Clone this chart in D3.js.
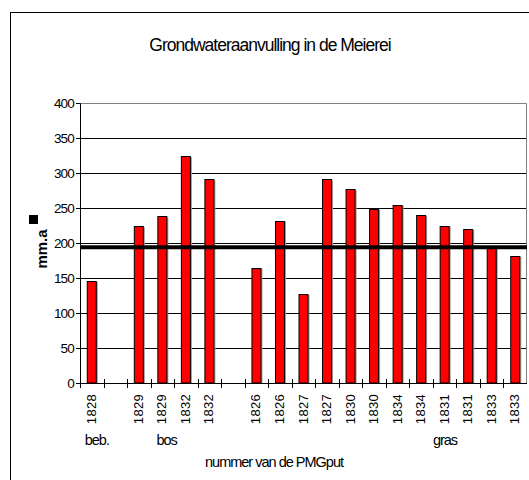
<!DOCTYPE html>
<html>
<head>
<meta charset="utf-8">
<script src="https://cdn.jsdelivr.net/npm/d3@7"></script>
<style>
  body { margin: 0; background: #fff; }
  text { font-family: "Liberation Sans", Arial, sans-serif; fill: #000; }
  .tick text { font-size: 13.5px; letter-spacing: -0.8px; }
</style>
</head>
<body>
<script>
// putnummers per staaf (lege plekken scheiden de groepen)
var putLabels = ["1828", "", "1829", "1829", "1832", "1832", "", "1826", "1826", "1827", "1827",
                 "1830", "1830", "1834", "1834", "1831", "1831", "1833", "1833"];
var recharge = [146, null, 224, 238, 324, 291, null, 165, 232, 127, 291,
                277, 249, 255, 240, 225, 220, 196, 182];
var groupNames = ["beb.", "bos", "gras"];
var groupSlots = [0.2, 3.25, 15];
var yTicks = [0, 50, 100, 150, 200, 250, 300, 350, 400];
var meanValue = 194;

var svgWidth = 529;
var svgHeight = 480;

var margin = { top: 103, right: 2, bottom: 97, left: 80 };
var chartWidth = svgWidth - margin.left - margin.right;
var chartHeight = svgHeight - margin.top - margin.bottom;

var svg = d3.select("body")
    .append("svg")
    .attr("width", svgWidth)
    .attr("height", svgHeight);

// buitenrand van de grafiek
svg.append("rect")
    .attr("x", 10.5)
    .attr("y", 12.5)
    .attr("width", 530)
    .attr("height", 480)
    .attr("fill", "none")
    .attr("stroke", "#000");

svg.append("text")
    .attr("x", 270)
    .attr("y", 51)
    .attr("text-anchor", "middle")
    .style("font-size", "17.5px")
    .style("letter-spacing", "-1px")
    .text("Grondwateraanvulling in de Meierei");

var chartGroup = svg.append("g")
    .attr("transform", `translate(${margin.left}, ${margin.top})`);

var xScale = d3.scaleBand()
    .domain(d3.range(putLabels.length))
    .range([0, chartWidth]);

var yScale = d3.scaleLinear()
    .domain([0, 400])
    .range([chartHeight, 0]);

// rasterlijnen
chartGroup.selectAll("line.grid")
    .data(yTicks.slice(1, -1))
    .enter()
    .append("line")
    .attr("x1", 0)
    .attr("x2", chartWidth)
    .attr("y1", d => Math.round(yScale(d)) + 0.5)
    .attr("y2", d => Math.round(yScale(d)) + 0.5)
    .attr("stroke", "#000");

// plotrand (grijs)
chartGroup.append("path")
    .attr("d", `M0,0.5H${chartWidth - 0.5}V${chartHeight}`)
    .attr("fill", "none")
    .attr("stroke", "#808080");

var barWidth = 10;
var bars = chartGroup.selectAll("g.bar")
    .data(recharge.map((v, i) => ({ v: v, i: i })).filter(d => d.v !== null))
    .enter()
    .append("g");

// schaduw
bars.append("rect")
    .attr("x", d => xScale(d.i) + (xScale.bandwidth() - barWidth) / 2 + 1)
    .attr("y", d => yScale(d.v) + 1)
    .attr("width", barWidth)
    .attr("height", d => chartHeight - yScale(d.v) - 1)
    .attr("fill", "#999");

bars.append("rect")
    .attr("x", d => xScale(d.i) + (xScale.bandwidth() - barWidth) / 2 + 0.5)
    .attr("y", d => Math.round(yScale(d.v)) + 0.5)
    .attr("width", barWidth - 1)
    .attr("height", d => chartHeight - Math.round(yScale(d.v)) - 0.5)
    .attr("fill", "#ff0000")
    .attr("stroke", "#000");

// gemiddelde lijn
chartGroup.append("line")
    .attr("x1", 0)
    .attr("x2", chartWidth)
    .attr("y1", yScale(meanValue))
    .attr("y2", yScale(meanValue))
    .attr("stroke", "#000")
    .attr("stroke-width", 4);

var leftAxis = d3.axisLeft(yScale)
    .tickValues(yTicks)
    .tickSize(4)
    .tickPadding(2);

chartGroup.append("g")
    .call(leftAxis)
    .call(g => g.select(".domain").attr("stroke", "#000"))
    .call(g => g.selectAll(".tick line").attr("stroke", "#000"));

// x-as met streepjes op de grenzen van de vakken
var xAxisGroup = chartGroup.append("g")
    .attr("transform", `translate(0, ${chartHeight})`);

xAxisGroup.append("line")
    .attr("x1", 0)
    .attr("x2", chartWidth)
    .attr("y1", 0.5)
    .attr("y2", 0.5)
    .attr("stroke", "#000");

xAxisGroup.selectAll("line.xt")
    .data(d3.range(putLabels.length))
    .enter()
    .append("line")
    .attr("x1", d => Math.round(xScale(d)) + 0.5)
    .attr("x2", d => Math.round(xScale(d)) + 0.5)
    .attr("y1", -4)
    .attr("y2", 5)
    .attr("stroke", "#000");

xAxisGroup.selectAll("text.xl")
    .data(putLabels)
    .enter()
    .append("text")
    .attr("transform", (d, i) => `translate(${xScale(i) + xScale.bandwidth() / 2 + 4}, 11) rotate(-90)`)
    .attr("text-anchor", "end")
    .style("font-size", "13px")
    .style("letter-spacing", "0.3px")
    .text(d => d);

xAxisGroup.selectAll("text.grp")
    .data(groupNames)
    .enter()
    .append("text")
    .attr("x", (d, i) => xScale.step() * groupSlots[i])
    .attr("y", 62)
    .style("font-size", "14.5px")
    .style("letter-spacing", "-1px")
    .text(d => d);

xAxisGroup.append("text")
    .attr("x", 274 - margin.left)
    .attr("y", 84)
    .attr("text-anchor", "middle")
    .style("font-size", "14.5px")
    .style("letter-spacing", "-1px")
    .text("nummer van de PMGput");

// y-as titel met ontbrekend teken als zwart blokje
svg.append("text")
    .attr("transform", "translate(47, 249) rotate(-90)")
    .attr("text-anchor", "middle")
    .style("font-size", "15px")
    .style("font-weight", "bold")
    .text("mm.a");

svg.append("rect")
    .attr("x", 29)
    .attr("y", 215)
    .attr("width", 9)
    .attr("height", 9)
    .attr("fill", "#000");
</script>
</body>
</html>
